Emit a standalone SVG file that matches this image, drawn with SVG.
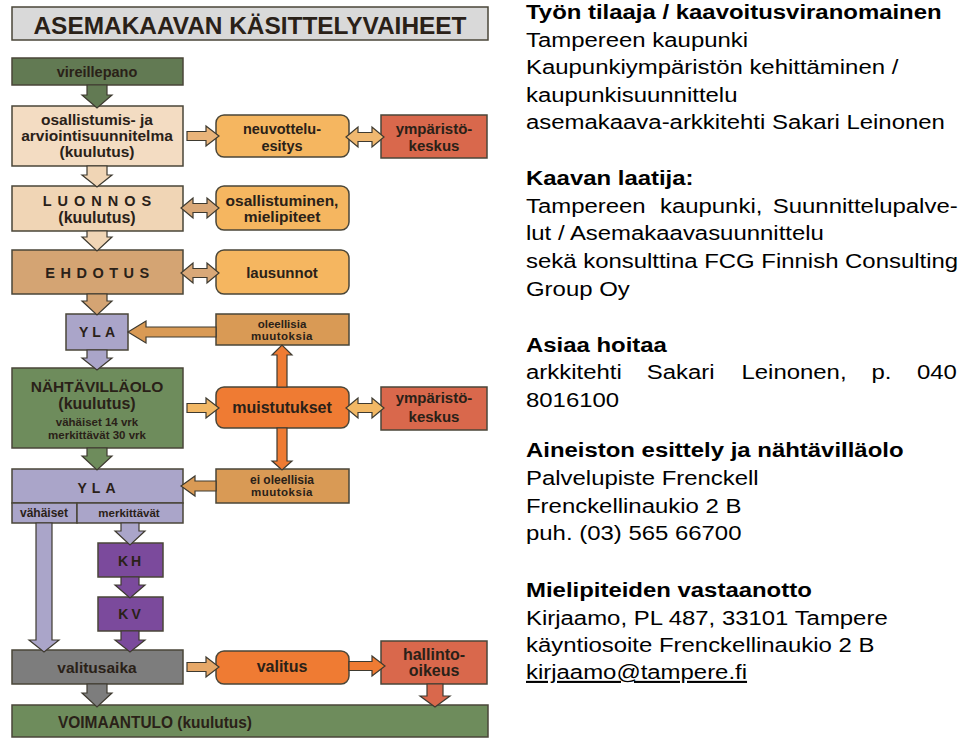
<svg xmlns="http://www.w3.org/2000/svg" width="960" height="749" viewBox="0 0 960 749">
<style>
.box{stroke:#4a4638;stroke-width:1.5}
.arr{stroke:#3e3a30;stroke-width:1.2;stroke-linejoin:miter}
.t{font-family:"Liberation Sans",Arial,sans-serif;font-weight:bold;fill:#2a2118;text-anchor:middle}
.ts{font-family:"Liberation Sans",Arial,sans-serif;font-weight:bold;fill:#2a2118;text-anchor:start}
.r{font-family:"Liberation Sans",Arial,sans-serif;font-size:21px;fill:#000}
.rb{font-family:"Liberation Sans",Arial,sans-serif;font-size:21px;font-weight:bold;fill:#000}
</style>
<rect width="960" height="749" fill="#fff"/>
<g id="title">
<rect class="box" x="12" y="7" width="476" height="33" fill="#d9d9d9"/>
<text class="t" x="250" y="34" font-size="23" textLength="433" lengthAdjust="spacingAndGlyphs" fill="#111">ASEMAKAAVAN KÄSITTELYVAIHEET</text>
</g>
<g id="vireillepano">
<rect class="box" x="12" y="58" width="171" height="27" fill="#627a53"/>
<text class="t" x="97" y="77" font-size="14.5">vireillepano</text>
</g>
<g id="osallistumis">
<rect class="box" x="12" y="106" width="171" height="60" fill="#f3dcc2"/>
<text class="t" x="97" y="125" font-size="15.5">osallistumis- ja</text>
<text class="t" x="97" y="141" font-size="15.5">arviointisuunnitelma</text>
<text class="t" x="97" y="157" font-size="15.5">(kuulutus)</text>
</g>
<g id="neuvottelu">
<rect class="box" x="216" y="115" width="133" height="42" rx="8" fill="#f5b660"/>
<text class="t" x="282" y="134" font-size="14.5">neuvottelu-</text>
<text class="t" x="282" y="151" font-size="14.5">esitys</text>
</g>
<g id="ymparisto1">
<rect class="box" x="381" y="115" width="106" height="43" fill="#d9684c"/>
<text class="t" x="434" y="134" font-size="15">ympäristö-</text>
<text class="t" x="434" y="151" font-size="15">keskus</text>
</g>
<g id="luonnos">
<rect class="box" x="12" y="186" width="171" height="45" fill="#f0d5b5"/>
<text class="t" x="100" y="206" font-size="14.5" letter-spacing="6">LUONNOS</text>
<text class="t" x="97" y="223" font-size="16">(kuulutus)</text>
</g>
<g id="osallistuminen">
<rect class="box" x="216" y="186" width="133" height="44" rx="8" fill="#f5b660"/>
<text class="t" x="282" y="206" font-size="15.5">osallistuminen,</text>
<text class="t" x="282" y="222" font-size="15.5">mielipiteet</text>
</g>
<g id="ehdotus">
<rect class="box" x="12" y="250" width="171" height="44" fill="#d4a473"/>
<text class="t" x="100" y="278" font-size="14.5" letter-spacing="5.5">EHDOTUS</text>
</g>
<g id="lausunnot">
<rect class="box" x="216" y="250" width="133" height="44" rx="8" fill="#f5b660"/>
<text class="t" x="282" y="278" font-size="15">lausunnot</text>
</g>
<g id="yla1">
<rect class="box" x="66" y="314" width="62" height="36" fill="#aaa5c9"/>
<text class="t" x="99" y="337" font-size="14" letter-spacing="4">YLA</text>
</g>
<g id="oleellisia">
<rect class="box" x="216" y="314" width="133" height="31" fill="#d99a55"/>
<text class="t" x="282" y="328" font-size="11.5">oleellisia</text>
<text class="t" x="282" y="340" font-size="11.5" letter-spacing="0.5">muutoksia</text>
</g>
<g id="nahtavillaolo">
<rect class="box" x="12" y="368" width="171" height="80" fill="#6e8c5c"/>
<text class="t" x="97" y="392" font-size="15.5">NÄHTÄVILLÄOLO</text>
<text class="t" x="97" y="409" font-size="16">(kuulutus)</text>
<text class="t" x="97" y="426" font-size="11.5">vähäiset 14 vrk</text>
<text class="t" x="97" y="439" font-size="11.5">merkittävät 30 vrk</text>
</g>
<g id="muistutukset">
<rect class="box" x="216" y="387" width="133" height="41" rx="8" fill="#ef7b33"/>
<text class="t" x="282" y="413" font-size="16">muistutukset</text>
</g>
<g id="ymparisto2">
<rect class="box" x="381" y="387" width="106" height="43" fill="#d9684c"/>
<text class="t" x="434" y="403" font-size="15">ympäristö-</text>
<text class="t" x="434" y="422" font-size="15">keskus</text>
</g>
<g id="yla2">
<rect class="box" x="12" y="469" width="171" height="34" fill="#aaa5c9"/>
<text class="t" x="99" y="493" font-size="14" letter-spacing="5">YLA</text>
<rect class="box" x="12" y="503" width="65" height="20" fill="#aaa5c9"/>
<rect class="box" x="77" y="503" width="106" height="20" fill="#aaa5c9"/>
<text class="t" x="44" y="517" font-size="12">vähäiset</text>
<text class="t" x="129" y="517" font-size="11.5">merkittävät</text>
</g>
<g id="eioleellisia">
<rect class="box" x="216" y="469" width="133" height="34" fill="#d99a55"/>
<text class="t" x="282" y="484" font-size="12">ei oleellisia</text>
<text class="t" x="282" y="496" font-size="11.5" letter-spacing="0.5">muutoksia</text>
</g>
<g id="kh">
<rect class="box" x="98" y="543" width="65" height="34" fill="#7b4a9c"/>
<text class="t" x="131" y="566" font-size="14" letter-spacing="3">KH</text>
</g>
<g id="kv">
<rect class="box" x="98" y="597" width="65" height="34" fill="#7b4a9c"/>
<text class="t" x="131" y="619" font-size="14" letter-spacing="3">KV</text>
</g>
<g id="valitusaika">
<rect class="box" x="12" y="650" width="171" height="34" fill="#7d7d7d"/>
<text class="t" x="97" y="673" font-size="15.5">valitusaika</text>
</g>
<g id="valitus">
<rect class="box" x="216" y="651" width="133" height="33" rx="8" fill="#ef7b33"/>
<text class="t" x="282" y="672" font-size="16">valitus</text>
</g>
<g id="hallinto">
<rect class="box" x="381" y="641" width="106" height="43" fill="#d9684c"/>
<text class="t" x="434" y="660" font-size="16">hallinto-</text>
<text class="t" x="434" y="676" font-size="16">oikeus</text>
</g>
<g id="voimaantulo">
<rect class="box" x="12" y="705" width="476" height="32" fill="#6e8c5c"/>
<text class="ts" x="58" y="728" font-size="16" textLength="194" lengthAdjust="spacingAndGlyphs">VOIMAANTULO (kuulutus)</text>
</g>
<g id="connectors">
<path class="arr" fill="#627a53" d="M87 85 L107 85 L107 95 L112 95 L97 108 L82 95 L87 95 Z"/>
<path class="arr" fill="#f0d5b5" d="M87 166 L107 166 L107 175 L112 175 L97 187 L82 175 L87 175 Z"/>
<path class="arr" fill="#f0d5b5" d="M87 231 L107 231 L107 237 L112 237 L97 251 L82 237 L87 237 Z"/>
<path class="arr" fill="#d4a473" d="M87 294 L107 294 L107 301 L112 301 L97 315 L82 301 L87 301 Z"/>
<path class="arr" fill="#aaa5c9" d="M87 350 L107 350 L107 358 L112 358 L97 370 L82 358 L87 358 Z"/>
<path class="arr" fill="#6e8c5c" d="M87 448 L107 448 L107 456 L112 456 L97 470 L82 456 L87 456 Z"/>
<path class="arr" fill="#aaa5c9" d="M121 523 L139 523 L139 531 L145 531 L130 545 L115 531 L121 531 Z"/>
<path class="arr" fill="#7b4a9c" d="M121 577 L139 577 L139 585 L145 585 L130 598 L115 585 L121 585 Z"/>
<path class="arr" fill="#7b4a9c" d="M121 631 L139 631 L139 640 L145 640 L130 652 L115 640 L121 640 Z"/>
<path class="arr" fill="#aaa5c9" d="M36 523 L52 523 L52 640 L59 640 L44 652 L29 640 L36 640 Z"/>
<path class="arr" fill="#7d7d7d" d="M87 684 L107 684 L107 693 L112 693 L97 707 L82 693 L87 693 Z"/>
<path class="arr" fill="#d9684c" d="M427 684 L443 684 L443 696 L450 696 L435 707 L420 696 L427 696 Z"/>
<path class="arr" fill="#ef7b33" d="M277 387 L287 387 L287 355 L292 355 L282 345 L272 355 L277 355 Z"/>
<path class="arr" fill="#ef7b33" d="M277 428 L287 428 L287 461 L292 461 L282 470 L272 461 L277 461 Z"/>
<path class="arr" fill="#e9b47a" d="M187 131.5 L206 131.5 L206 126 L219 136 L206 146 L206 140.5 L187 140.5 Z"/>
<path class="arr" fill="#f2b865" d="M187 403.5 L206 403.5 L206 398 L219 408 L206 418 L206 412.5 L187 412.5 Z"/>
<path class="arr" fill="#e6a868" d="M187 662.5 L206 662.5 L206 657 L219 667 L206 677 L206 671.5 L187 671.5 Z"/>
<path class="arr" fill="#ef7b33" d="M349 661.5 L372 661.5 L372 656 L385 666 L372 676 L372 670.5 L349 670.5 Z"/>
<path class="arr" fill="#d99a55" d="M216 327 L146 327 L146 321 L128 332 L146 343 L146 337 L216 337 Z"/>
<path class="arr" fill="#d99a55" d="M216 481 L195 481 L195 476 L181 486 L195 496 L195 491 L216 491 Z"/>
<path class="arr" fill="#f0b870" d="M346 137 L358 127 L358 132.5 L372 132.5 L372 127 L384 137 L372 147 L372 141.5 L358 141.5 L358 147 Z"/>
<path class="arr" fill="#d9a878" d="M181 208 L193 198 L193 203.5 L207 203.5 L207 198 L219 208 L207 218 L207 212.5 L193 212.5 L193 218 Z"/>
<path class="arr" fill="#d9a878" d="M181 273 L193 263 L193 268.5 L207 268.5 L207 263 L219 273 L207 283 L207 277.5 L193 277.5 L193 283 Z"/>
<path class="arr" fill="#f2b865" d="M346 408 L358 398 L358 403.5 L372 403.5 L372 398 L384 408 L372 418 L372 412.5 L358 412.5 L358 418 Z"/>
</g>
<g id="info" transform="translate(526,0) scale(1.14,1)">
<text class="rb" x="0" y="19">Työn tilaaja / kaavoitusviranomainen</text>
<text class="r" x="0" y="47">Tampereen kaupunki</text>
<text class="r" x="0" y="74">Kaupunkiympäristön kehittäminen /</text>
<text class="r" x="0" y="102">kaupunkisuunnittelu</text>
<text class="r" x="0" y="129">asemakaava-arkkitehti Sakari Leinonen</text>
<text class="rb" x="0" y="185">Kaavan laatija:</text>
<text class="r" y="213"><tspan x="0">Tampereen</tspan><tspan x="117.5">kaupunki,</tspan><tspan x="216.5">Suunnittelupalve-</tspan></text>
<text class="r" x="0" y="240">lut / Asemakaavasuunnittelu</text>
<text class="r" x="0" y="268">sekä konsulttina FCG Finnish Consulting</text>
<text class="r" x="0" y="296">Group Oy</text>
<text class="rb" x="0" y="352">Asiaa hoitaa</text>
<text class="r" y="379"><tspan x="0">arkkitehti</tspan><tspan x="106">Sakari</tspan><tspan x="189">Leinonen,</tspan><tspan x="303">p.</tspan><tspan x="343">040</tspan></text>
<text class="r" x="0" y="407">8016100</text>
<text class="rb" x="0" y="457">Aineiston esittely ja nähtävilläolo</text>
<text class="r" x="0" y="485">Palvelupiste Frenckell</text>
<text class="r" x="0" y="513">Frenckellinaukio 2 B</text>
<text class="r" x="0" y="540">puh. (03) 565 66700</text>
<text class="rb" x="0" y="597">Mielipiteiden vastaanotto</text>
<text class="r" x="0" y="625">Kirjaamo, PL 487, 33101 Tampere</text>
<text class="r" x="0" y="652">käyntiosoite Frenckellinaukio 2 B</text>
<text class="r" x="0" y="679" fill="#1a6b3c" text-decoration="underline">kirjaamo@tampere.fi</text>
</g>
</svg>
